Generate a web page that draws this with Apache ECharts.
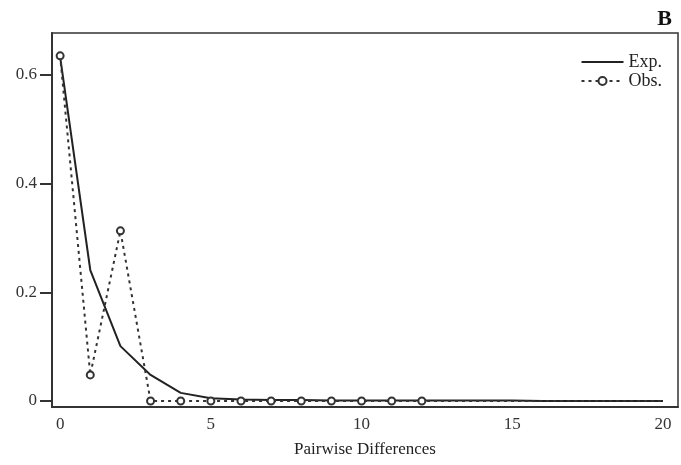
<!DOCTYPE html>
<html lang="en">
<head>
    <meta charset="UTF-8">
    <title>Mismatch distribution</title>
    <style>
        html, body { margin: 0; padding: 0; background: #fff; }
        #main { width: 681px; height: 465px; }
    </style>
</head>
<body>
    <div id="main"></div>
</body>
</html>
<script src="https://cdn.jsdelivr.net/npm/echarts@6/dist/echarts.min.js"></script>
<script>
    // x = pairwise differences 0..20
    var diffs = [];
    for (var i = 0; i <= 20; i++) diffs.push(i);
    var expVals = [0.633, 0.241, 0.101, 0.048, 0.015, 0.005, 0.003, 0.002, 0.002, 0.001, 0.001,
        0.001, 0.001, 0.001, 0.001, 0.001, 0, 0, 0, 0, 0];
    var obsVals = [0.635, 0.048, 0.313, 0, 0, 0, 0, 0, 0, 0, 0, 0, 0, 0, 0, 0, 0, 0, 0, 0, 0];
    var obsMarked = 12; // circles drawn up to this x
    var xTicks = [0, 5, 10, 15, 20];
    var yTicks = [0, 0.2, 0.4, 0.6];

    var font = 'Liberation Serif';
    var chart = echarts.init(document.getElementById('main'));

    var expData = diffs.map(function (d, i) { return [d, expVals[i]]; });
    var obsData = diffs.map(function (d, i) {
        return i <= obsMarked ? [d, obsVals[i]] : { value: [d, obsVals[i]], symbol: 'none' };
    });

    chart.setOption({
        animation: false,
        textStyle: { fontFamily: font },
        title: {
            text: 'B', right: 4, top: 3,
            textStyle: { fontFamily: font, fontWeight: 'bold', fontSize: 22, color: '#111' }
        },
        legend: {
            right: 14, top: 48, orient: 'vertical', itemGap: 1,
            itemWidth: 42, itemHeight: 10,
            textStyle: { fontFamily: font, fontSize: 18, color: '#222', padding: [0, 0, 0, 0] },
            data: [
                { name: 'Exp.', itemStyle: { color: 'rgba(0,0,0,0)', borderWidth: 0 } },
                { name: 'Obs.' }
            ]
        },
        grid: {
            left: 52, right: 3, top: 33, bottom: 58,
            show: true, borderColor: '#333', borderWidth: 1.5
        },
        xAxis: {
            type: 'value', min: -0.27, max: 20.5,
            name: 'Pairwise Differences', nameLocation: 'middle', nameGap: 34,
            nameTextStyle: { fontFamily: font, fontSize: 17, color: '#222' },
            axisLine: { onZero: false, lineStyle: { color: '#333', width: 2 } },
            axisTick: { show: false },
            splitLine: { show: false },
            axisLabel: {
                customValues: xTicks, fontFamily: font, fontSize: 17, color: '#333', margin: 9
            }
        },
        yAxis: {
            type: 'value', min: -0.011, max: 0.677,
            axisLine: { show: true, onZero: false, lineStyle: { color: '#333', width: 2 } },
            axisTick: { show: true, customValues: yTicks, length: 12, lineStyle: { width: 2, color: '#333' } },
            splitLine: { show: false },
            axisLabel: {
                customValues: yTicks, fontFamily: font, fontSize: 17, color: '#333', margin: 15,
                formatter: function (v) { return v === 0 ? '0' : v.toFixed(1); }
            }
        },
        series: [
            {
                name: 'Exp.', type: 'line', data: expData,
                symbol: 'none',
                lineStyle: { color: '#222', width: 2 },
                itemStyle: { color: '#222' }
            },
            {
                name: 'Obs.', type: 'line', data: obsData,
                symbol: 'emptyCircle', symbolSize: 7,
                lineStyle: { color: '#333', width: 2, type: [3, 4] },
                itemStyle: { color: '#333', borderWidth: 1.5 }
            }
        ]
    });
</script>
